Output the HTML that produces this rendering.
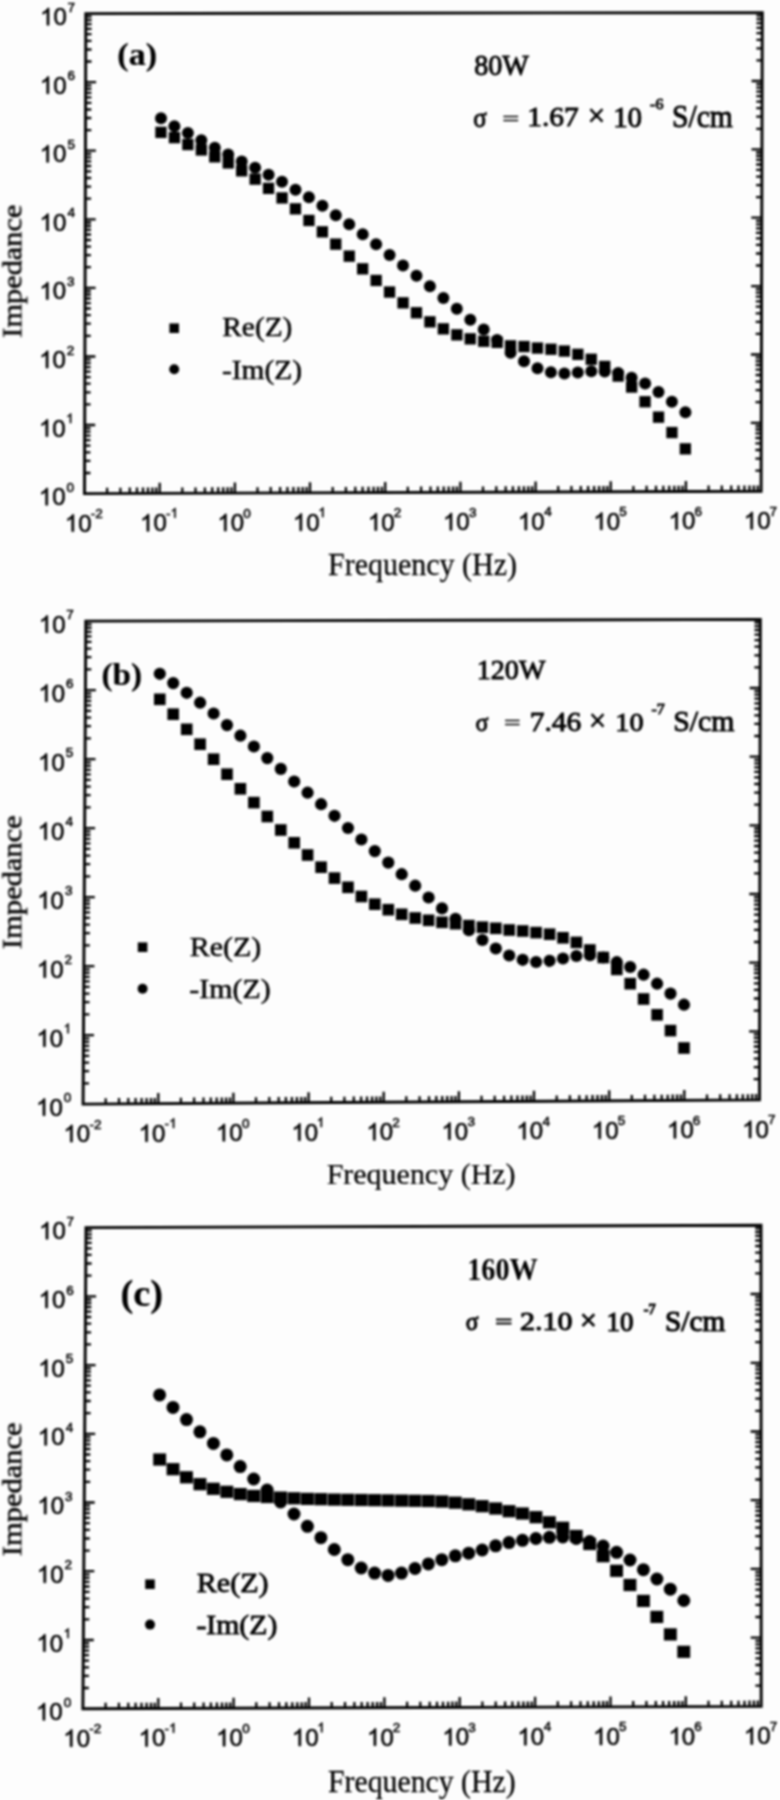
<!DOCTYPE html>
<html><head><meta charset="utf-8"><title>Impedance spectra</title><style>
html,body{margin:0;padding:0;background:#fff;}
svg{display:block;}
</style></head><body>
<svg width="780" height="1800" viewBox="0 0 780 1800">
<defs><filter id="blr" filterUnits="userSpaceOnUse" x="0" y="0" width="780" height="1800"><feGaussianBlur stdDeviation="0.8"/></filter></defs>
<rect width="780" height="1800" fill="#fdfdfd"/>
<g filter="url(#blr)">
<path d="M84.5,493.6 L85.8,13.6 L762.3,12.6 L761.1,491.2 Z" fill="none" stroke="#000000" stroke-width="2.9" stroke-linejoin="miter"/>
<path d="M107.1,493.5 v-5.8 M120.4,493.5 v-5.8 M129.8,493.4 v-5.8 M137.0,493.4 v-5.8 M143.0,493.4 v-5.8 M148.0,493.4 v-5.8 M152.4,493.4 v-5.8 M156.2,493.3 v-5.8 M159.7,493.3 v-10.5 M182.3,493.3 v-5.8 M195.5,493.2 v-5.8 M204.9,493.2 v-5.8 M212.2,493.1 v-5.8 M218.2,493.1 v-5.8 M223.2,493.1 v-5.8 M227.6,493.1 v-5.8 M231.4,493.1 v-5.8 M234.9,493.1 v-10.5 M257.5,493.0 v-5.8 M270.7,492.9 v-5.8 M280.1,492.9 v-5.8 M287.4,492.9 v-5.8 M293.4,492.9 v-5.8 M298.4,492.8 v-5.8 M302.7,492.8 v-5.8 M306.6,492.8 v-5.8 M310.0,492.8 v-10.5 M332.7,492.7 v-5.8 M345.9,492.7 v-5.8 M355.3,492.6 v-5.8 M362.6,492.6 v-5.8 M368.5,492.6 v-5.8 M373.6,492.6 v-5.8 M377.9,492.6 v-5.8 M381.8,492.5 v-5.8 M385.2,492.5 v-10.5 M407.8,492.5 v-5.8 M421.1,492.4 v-5.8 M430.5,492.4 v-5.8 M437.8,492.3 v-5.8 M443.7,492.3 v-5.8 M448.7,492.3 v-5.8 M453.1,492.3 v-5.8 M456.9,492.3 v-5.8 M460.4,492.3 v-10.5 M483.0,492.2 v-5.8 M496.3,492.1 v-5.8 M505.7,492.1 v-5.8 M512.9,492.1 v-5.8 M518.9,492.1 v-5.8 M523.9,492.0 v-5.8 M528.3,492.0 v-5.8 M532.1,492.0 v-5.8 M535.6,492.0 v-10.5 M558.2,491.9 v-5.8 M571.4,491.9 v-5.8 M580.8,491.8 v-5.8 M588.1,491.8 v-5.8 M594.1,491.8 v-5.8 M599.1,491.8 v-5.8 M603.5,491.8 v-5.8 M607.3,491.7 v-5.8 M610.7,491.7 v-10.5 M633.4,491.7 v-5.8 M646.6,491.6 v-5.8 M656.0,491.6 v-5.8 M663.3,491.5 v-5.8 M669.2,491.5 v-5.8 M674.3,491.5 v-5.8 M678.6,491.5 v-5.8 M682.5,491.5 v-5.8 M685.9,491.5 v-10.5 M708.6,491.4 v-5.8 M721.8,491.3 v-5.8 M731.2,491.3 v-5.8 M738.5,491.3 v-5.8 M744.4,491.3 v-5.8 M749.5,491.2 v-5.8 M753.8,491.2 v-5.8 M757.7,491.2 v-5.8 M84.6,473.0 h5.8 M761.2,470.6 h-5.8 M84.6,460.9 h5.8 M761.2,458.6 h-5.8 M84.6,452.3 h5.8 M761.2,450.0 h-5.8 M84.6,445.7 h5.8 M761.2,443.4 h-5.8 M84.6,440.2 h5.8 M761.2,438.0 h-5.8 M84.7,435.7 h5.8 M761.2,433.4 h-5.8 M84.7,431.7 h5.8 M761.3,429.5 h-5.8 M84.7,428.2 h5.8 M761.3,426.0 h-5.8 M84.7,425.0 h10.5 M761.3,422.8 h-10.5 M84.7,404.4 h5.8 M761.3,402.2 h-5.8 M84.8,392.3 h5.8 M761.4,390.2 h-5.8 M84.8,383.7 h5.8 M761.4,381.7 h-5.8 M84.8,377.1 h5.8 M761.4,375.0 h-5.8 M84.8,371.7 h5.8 M761.4,369.6 h-5.8 M84.8,367.1 h5.8 M761.4,365.0 h-5.8 M84.9,363.1 h5.8 M761.4,361.1 h-5.8 M84.9,359.6 h5.8 M761.4,357.6 h-5.8 M84.9,356.5 h10.5 M761.4,354.5 h-10.5 M84.9,335.8 h5.8 M761.5,333.9 h-5.8 M85.0,323.7 h5.8 M761.5,321.8 h-5.8 M85.0,315.2 h5.8 M761.5,313.3 h-5.8 M85.0,308.5 h5.8 M761.6,306.7 h-5.8 M85.0,303.1 h5.8 M761.6,301.3 h-5.8 M85.0,298.5 h5.8 M761.6,296.7 h-5.8 M85.0,294.5 h5.8 M761.6,292.7 h-5.8 M85.0,291.0 h5.8 M761.6,289.2 h-5.8 M85.1,287.9 h10.5 M761.6,286.1 h-10.5 M85.1,267.2 h5.8 M761.7,265.5 h-5.8 M85.1,255.2 h5.8 M761.7,253.5 h-5.8 M85.2,246.6 h5.8 M761.7,244.9 h-5.8 M85.2,240.0 h5.8 M761.7,238.3 h-5.8 M85.2,234.5 h5.8 M761.7,232.9 h-5.8 M85.2,229.9 h5.8 M761.8,228.3 h-5.8 M85.2,226.0 h5.8 M761.8,224.3 h-5.8 M85.2,222.5 h5.8 M761.8,220.8 h-5.8 M85.2,219.3 h10.5 M761.8,217.7 h-10.5 M85.3,198.7 h5.8 M761.8,197.1 h-5.8 M85.3,186.6 h5.8 M761.9,185.1 h-5.8 M85.4,178.0 h5.8 M761.9,176.6 h-5.8 M85.4,171.4 h5.8 M761.9,169.9 h-5.8 M85.4,166.0 h5.8 M761.9,164.5 h-5.8 M85.4,161.4 h5.8 M761.9,159.9 h-5.8 M85.4,157.4 h5.8 M761.9,156.0 h-5.8 M85.4,153.9 h5.8 M761.9,152.5 h-5.8 M85.4,150.7 h10.5 M762.0,149.3 h-10.5 M85.5,130.1 h5.8 M762.0,128.8 h-5.8 M85.5,118.0 h5.8 M762.0,116.7 h-5.8 M85.5,109.5 h5.8 M762.1,108.2 h-5.8 M85.6,102.8 h5.8 M762.1,101.6 h-5.8 M85.6,97.4 h5.8 M762.1,96.1 h-5.8 M85.6,92.8 h5.8 M762.1,91.6 h-5.8 M85.6,88.8 h5.8 M762.1,87.6 h-5.8 M85.6,85.3 h5.8 M762.1,84.1 h-5.8 M85.6,82.2 h10.5 M762.1,81.0 h-10.5 M85.7,61.5 h5.8 M762.2,60.4 h-5.8 M85.7,49.5 h5.8 M762.2,48.3 h-5.8 M85.7,40.9 h5.8 M762.2,39.8 h-5.8 M85.7,34.2 h5.8 M762.2,33.2 h-5.8 M85.8,28.8 h5.8 M762.3,27.8 h-5.8 M85.8,24.2 h5.8 M762.3,23.2 h-5.8 M85.8,20.2 h5.8 M762.3,19.2 h-5.8 M85.8,16.7 h5.8 M762.3,15.7 h-5.8" stroke="#000000" stroke-width="2.3" fill="none"/>
<polygon points="47.77,505.18 45.66,505.18 45.66,491.79 44.77,492.56 43.38,493.40 41.44,494.33 41.44,492.29 43.26,491.31 44.70,490.13 45.78,488.96 46.40,488.00 47.77,488.00" fill="#000000" stroke="#000000" stroke-width="0.55" stroke-linejoin="round"/>
<text x="52.16" y="505.18" font-family="Liberation Sans" font-size="24.0" fill="#000000" stroke="#000000" stroke-width="0.55">0</text>
<text x="66.46" y="491.83" font-family="Liberation Sans" font-size="13.5" fill="#000000" stroke="#000000" stroke-width="0.55">0</text>
<polygon points="47.96,436.61 45.85,436.61 45.85,423.22 44.96,423.98 43.57,424.82 41.62,425.76 41.62,423.72 43.45,422.74 44.89,421.56 45.97,420.38 46.59,419.42 47.96,419.42" fill="#000000" stroke="#000000" stroke-width="0.55" stroke-linejoin="round"/>
<text x="52.35" y="436.61" font-family="Liberation Sans" font-size="24.0" fill="#000000" stroke="#000000" stroke-width="0.55">0</text>
<polygon points="71.14,423.12 69.95,423.12 69.95,415.59 69.45,416.02 68.67,416.50 67.58,417.02 67.58,415.87 68.60,415.32 69.41,414.66 70.02,414.00 70.37,413.46 71.14,413.46" fill="#000000" stroke="#000000" stroke-width="0.55" stroke-linejoin="round"/>
<polygon points="48.14,368.04 46.03,368.04 46.03,354.65 45.14,355.41 43.75,356.25 41.81,357.19 41.81,355.15 43.63,354.17 45.07,352.99 46.15,351.81 46.78,350.85 48.14,350.85" fill="#000000" stroke="#000000" stroke-width="0.55" stroke-linejoin="round"/>
<text x="52.54" y="368.04" font-family="Liberation Sans" font-size="24.0" fill="#000000" stroke="#000000" stroke-width="0.55">0</text>
<text x="66.70" y="354.69" font-family="Liberation Sans" font-size="13.5" fill="#000000" stroke="#000000" stroke-width="0.55">2</text>
<polygon points="48.33,299.47 46.22,299.47 46.22,286.07 45.33,286.84 43.94,287.68 41.99,288.62 41.99,286.58 43.82,285.59 45.26,284.42 46.34,283.24 46.96,282.28 48.33,282.28" fill="#000000" stroke="#000000" stroke-width="0.55" stroke-linejoin="round"/>
<text x="52.72" y="299.47" font-family="Liberation Sans" font-size="24.0" fill="#000000" stroke="#000000" stroke-width="0.55">0</text>
<text x="67.02" y="286.12" font-family="Liberation Sans" font-size="13.5" fill="#000000" stroke="#000000" stroke-width="0.55">3</text>
<polygon points="48.51,230.89 46.40,230.89 46.40,217.50 45.51,218.27 44.12,219.11 42.18,220.05 42.18,218.01 44.00,217.02 45.44,215.85 46.52,214.67 47.15,213.71 48.51,213.71" fill="#000000" stroke="#000000" stroke-width="0.55" stroke-linejoin="round"/>
<text x="52.91" y="230.89" font-family="Liberation Sans" font-size="24.0" fill="#000000" stroke="#000000" stroke-width="0.55">0</text>
<text x="67.47" y="217.41" font-family="Liberation Sans" font-size="13.5" fill="#000000" stroke="#000000" stroke-width="0.55">4</text>
<polygon points="48.70,162.32 46.59,162.32 46.59,148.93 45.70,149.70 44.31,150.54 42.36,151.47 42.36,149.43 44.19,148.45 45.63,147.27 46.71,146.10 47.33,145.14 48.70,145.14" fill="#000000" stroke="#000000" stroke-width="0.55" stroke-linejoin="round"/>
<text x="53.09" y="162.32" font-family="Liberation Sans" font-size="24.0" fill="#000000" stroke="#000000" stroke-width="0.55">0</text>
<text x="67.39" y="148.84" font-family="Liberation Sans" font-size="13.5" fill="#000000" stroke="#000000" stroke-width="0.55">5</text>
<polygon points="48.89,93.75 46.77,93.75 46.77,80.36 45.89,81.13 44.49,81.97 42.55,82.90 42.55,80.86 44.37,79.88 45.81,78.70 46.89,77.53 47.52,76.57 48.89,76.57" fill="#000000" stroke="#000000" stroke-width="0.55" stroke-linejoin="round"/>
<text x="53.28" y="93.75" font-family="Liberation Sans" font-size="24.0" fill="#000000" stroke="#000000" stroke-width="0.55">0</text>
<text x="67.44" y="80.40" font-family="Liberation Sans" font-size="13.5" fill="#000000" stroke="#000000" stroke-width="0.55">6</text>
<polygon points="49.07,25.18 46.96,25.18 46.96,11.79 46.07,12.56 44.68,13.40 42.74,14.33 42.74,12.29 44.56,11.31 46.00,10.13 47.08,8.96 47.70,8.00 49.07,8.00" fill="#000000" stroke="#000000" stroke-width="0.55" stroke-linejoin="round"/>
<text x="53.46" y="25.18" font-family="Liberation Sans" font-size="24.0" fill="#000000" stroke="#000000" stroke-width="0.55">0</text>
<text x="67.62" y="11.70" font-family="Liberation Sans" font-size="13.5" fill="#000000" stroke="#000000" stroke-width="0.55">7</text>
<polygon points="73.85,531.60 71.74,531.60 71.74,518.21 70.85,518.98 69.46,519.82 67.52,520.75 67.52,518.71 69.34,517.73 70.78,516.55 71.86,515.38 72.48,514.42 73.85,514.42" fill="#000000" stroke="#000000" stroke-width="0.55" stroke-linejoin="round"/>
<text x="78.24" y="531.60" font-family="Liberation Sans" font-size="24.0" fill="#000000" stroke="#000000" stroke-width="0.55">0</text>
<text x="90.84" y="518.05" font-family="Liberation Sans" font-size="13.5" fill="#000000" stroke="#000000" stroke-width="0.55">-2</text>
<polygon points="149.03,531.33 146.92,531.33 146.92,517.94 146.03,518.71 144.64,519.55 142.69,520.49 142.69,518.45 144.52,517.46 145.96,516.29 147.04,515.11 147.66,514.15 149.03,514.15" fill="#000000" stroke="#000000" stroke-width="0.55" stroke-linejoin="round"/>
<text x="153.42" y="531.33" font-family="Liberation Sans" font-size="24.0" fill="#000000" stroke="#000000" stroke-width="0.55">0</text>
<text x="166.02" y="517.65" font-family="Liberation Sans" font-size="13.5" fill="#000000" stroke="#000000" stroke-width="0.55">-</text>
<polygon points="175.55,517.65 174.36,517.65 174.36,510.12 173.86,510.55 173.08,511.02 171.98,511.55 171.98,510.40 173.01,509.85 173.82,509.18 174.43,508.52 174.78,507.98 175.55,507.98" fill="#000000" stroke="#000000" stroke-width="0.55" stroke-linejoin="round"/>
<polygon points="226.37,531.07 224.26,531.07 224.26,517.67 223.37,518.44 221.98,519.28 220.03,520.22 220.03,518.18 221.86,517.19 223.30,516.02 224.38,514.84 225.00,513.88 226.37,513.88" fill="#000000" stroke="#000000" stroke-width="0.55" stroke-linejoin="round"/>
<text x="230.76" y="531.07" font-family="Liberation Sans" font-size="24.0" fill="#000000" stroke="#000000" stroke-width="0.55">0</text>
<text x="243.36" y="517.52" font-family="Liberation Sans" font-size="13.5" fill="#000000" stroke="#000000" stroke-width="0.55">0</text>
<polygon points="301.88,530.80 299.77,530.80 299.77,517.41 298.88,518.18 297.49,519.02 295.55,519.95 295.55,517.91 297.37,516.93 298.81,515.75 299.89,514.58 300.51,513.62 301.88,513.62" fill="#000000" stroke="#000000" stroke-width="0.55" stroke-linejoin="round"/>
<text x="306.27" y="530.80" font-family="Liberation Sans" font-size="24.0" fill="#000000" stroke="#000000" stroke-width="0.55">0</text>
<polygon points="323.37,517.12 322.18,517.12 322.18,509.58 321.68,510.01 320.90,510.49 319.80,511.01 319.80,509.87 320.83,509.31 321.64,508.65 322.25,507.99 322.60,507.45 323.37,507.45" fill="#000000" stroke="#000000" stroke-width="0.55" stroke-linejoin="round"/>
<polygon points="376.86,530.53 374.75,530.53 374.75,517.14 373.86,517.91 372.47,518.75 370.52,519.69 370.52,517.65 372.35,516.66 373.79,515.49 374.87,514.31 375.49,513.35 376.86,513.35" fill="#000000" stroke="#000000" stroke-width="0.55" stroke-linejoin="round"/>
<text x="381.25" y="530.53" font-family="Liberation Sans" font-size="24.0" fill="#000000" stroke="#000000" stroke-width="0.55">0</text>
<text x="393.71" y="516.98" font-family="Liberation Sans" font-size="13.5" fill="#000000" stroke="#000000" stroke-width="0.55">2</text>
<polygon points="451.97,530.27 449.86,530.27 449.86,516.87 448.97,517.64 447.58,518.48 445.63,519.42 445.63,517.38 447.46,516.39 448.90,515.22 449.98,514.04 450.60,513.08 451.97,513.08" fill="#000000" stroke="#000000" stroke-width="0.55" stroke-linejoin="round"/>
<text x="456.36" y="530.27" font-family="Liberation Sans" font-size="24.0" fill="#000000" stroke="#000000" stroke-width="0.55">0</text>
<text x="468.96" y="516.72" font-family="Liberation Sans" font-size="13.5" fill="#000000" stroke="#000000" stroke-width="0.55">3</text>
<polygon points="526.88,530.00 524.76,530.00 524.76,516.61 523.88,517.38 522.48,518.22 520.54,519.15 520.54,517.11 522.36,516.13 523.80,514.95 524.88,513.78 525.51,512.82 526.88,512.82" fill="#000000" stroke="#000000" stroke-width="0.55" stroke-linejoin="round"/>
<text x="531.27" y="530.00" font-family="Liberation Sans" font-size="24.0" fill="#000000" stroke="#000000" stroke-width="0.55">0</text>
<text x="544.13" y="516.32" font-family="Liberation Sans" font-size="13.5" fill="#000000" stroke="#000000" stroke-width="0.55">4</text>
<polygon points="602.32,529.73 600.21,529.73 600.21,516.34 599.32,517.11 597.93,517.95 595.99,518.89 595.99,516.85 597.81,515.86 599.25,514.69 600.33,513.51 600.96,512.55 602.32,512.55" fill="#000000" stroke="#000000" stroke-width="0.55" stroke-linejoin="round"/>
<text x="606.72" y="529.73" font-family="Liberation Sans" font-size="24.0" fill="#000000" stroke="#000000" stroke-width="0.55">0</text>
<text x="619.31" y="516.05" font-family="Liberation Sans" font-size="13.5" fill="#000000" stroke="#000000" stroke-width="0.55">5</text>
<polygon points="677.57,529.47 675.46,529.47 675.46,516.07 674.57,516.84 673.18,517.68 671.23,518.62 671.23,516.58 673.06,515.59 674.50,514.42 675.58,513.24 676.20,512.28 677.57,512.28" fill="#000000" stroke="#000000" stroke-width="0.55" stroke-linejoin="round"/>
<text x="681.96" y="529.47" font-family="Liberation Sans" font-size="24.0" fill="#000000" stroke="#000000" stroke-width="0.55">0</text>
<text x="694.42" y="515.92" font-family="Liberation Sans" font-size="13.5" fill="#000000" stroke="#000000" stroke-width="0.55">6</text>
<polygon points="752.75,529.20 750.64,529.20 750.64,515.81 749.75,516.58 748.36,517.42 746.41,518.35 746.41,516.31 748.24,515.33 749.68,514.15 750.76,512.98 751.38,512.02 752.75,512.02" fill="#000000" stroke="#000000" stroke-width="0.55" stroke-linejoin="round"/>
<text x="757.14" y="529.20" font-family="Liberation Sans" font-size="24.0" fill="#000000" stroke="#000000" stroke-width="0.55">0</text>
<text x="769.60" y="515.51" font-family="Liberation Sans" font-size="13.5" fill="#000000" stroke="#000000" stroke-width="0.55">7</text>
<rect x="155.3" y="126.7" width="11.3" height="11.3" fill="#000000"/>
<circle cx="161.0" cy="118.2" r="6.0" fill="#000000"/>
<rect x="168.8" y="132.0" width="11.3" height="11.3" fill="#000000"/>
<circle cx="174.4" cy="126.2" r="6.0" fill="#000000"/>
<rect x="182.2" y="138.9" width="11.3" height="11.3" fill="#000000"/>
<circle cx="187.9" cy="133.0" r="6.0" fill="#000000"/>
<rect x="195.7" y="144.3" width="11.3" height="11.3" fill="#000000"/>
<circle cx="201.3" cy="140.3" r="6.0" fill="#000000"/>
<rect x="209.1" y="151.2" width="11.3" height="11.3" fill="#000000"/>
<circle cx="214.8" cy="147.7" r="6.0" fill="#000000"/>
<rect x="222.6" y="157.3" width="11.3" height="11.3" fill="#000000"/>
<circle cx="228.2" cy="154.6" r="6.0" fill="#000000"/>
<rect x="236.0" y="165.2" width="11.3" height="11.3" fill="#000000"/>
<circle cx="241.7" cy="161.5" r="6.0" fill="#000000"/>
<rect x="249.5" y="173.5" width="11.3" height="11.3" fill="#000000"/>
<circle cx="255.1" cy="167.7" r="6.0" fill="#000000"/>
<rect x="262.9" y="182.7" width="11.3" height="11.3" fill="#000000"/>
<circle cx="268.6" cy="174.8" r="6.0" fill="#000000"/>
<rect x="276.4" y="192.3" width="11.3" height="11.3" fill="#000000"/>
<circle cx="282.0" cy="181.8" r="6.0" fill="#000000"/>
<rect x="289.8" y="203.2" width="11.3" height="11.3" fill="#000000"/>
<circle cx="295.5" cy="189.7" r="6.0" fill="#000000"/>
<rect x="303.3" y="214.8" width="11.3" height="11.3" fill="#000000"/>
<circle cx="308.9" cy="197.3" r="6.0" fill="#000000"/>
<rect x="316.7" y="226.2" width="11.3" height="11.3" fill="#000000"/>
<circle cx="322.4" cy="205.8" r="6.0" fill="#000000"/>
<rect x="330.1" y="238.5" width="11.3" height="11.3" fill="#000000"/>
<circle cx="335.8" cy="215.3" r="6.0" fill="#000000"/>
<rect x="343.6" y="250.5" width="11.3" height="11.3" fill="#000000"/>
<circle cx="349.2" cy="224.3" r="6.0" fill="#000000"/>
<rect x="357.0" y="263.2" width="11.3" height="11.3" fill="#000000"/>
<circle cx="362.7" cy="234.2" r="6.0" fill="#000000"/>
<rect x="370.5" y="274.8" width="11.3" height="11.3" fill="#000000"/>
<circle cx="376.1" cy="244.2" r="6.0" fill="#000000"/>
<rect x="383.9" y="286.4" width="11.3" height="11.3" fill="#000000"/>
<circle cx="389.6" cy="255.0" r="6.0" fill="#000000"/>
<rect x="397.4" y="297.2" width="11.3" height="11.3" fill="#000000"/>
<circle cx="403.0" cy="265.4" r="6.0" fill="#000000"/>
<rect x="410.8" y="307.1" width="11.3" height="11.3" fill="#000000"/>
<circle cx="416.5" cy="275.8" r="6.0" fill="#000000"/>
<rect x="424.3" y="316.2" width="11.3" height="11.3" fill="#000000"/>
<circle cx="429.9" cy="286.3" r="6.0" fill="#000000"/>
<rect x="437.7" y="323.2" width="11.3" height="11.3" fill="#000000"/>
<circle cx="443.4" cy="298.0" r="6.0" fill="#000000"/>
<rect x="451.2" y="329.2" width="11.3" height="11.3" fill="#000000"/>
<circle cx="456.8" cy="308.8" r="6.0" fill="#000000"/>
<rect x="464.6" y="333.2" width="11.3" height="11.3" fill="#000000"/>
<circle cx="470.3" cy="319.7" r="6.0" fill="#000000"/>
<rect x="478.1" y="335.6" width="11.3" height="11.3" fill="#000000"/>
<circle cx="483.7" cy="329.6" r="6.0" fill="#000000"/>
<rect x="491.5" y="336.7" width="11.3" height="11.3" fill="#000000"/>
<circle cx="497.1" cy="340.0" r="6.0" fill="#000000"/>
<rect x="504.9" y="340.2" width="11.3" height="11.3" fill="#000000"/>
<circle cx="510.6" cy="352.7" r="6.0" fill="#000000"/>
<rect x="518.4" y="340.9" width="11.3" height="11.3" fill="#000000"/>
<circle cx="524.0" cy="361.2" r="6.0" fill="#000000"/>
<rect x="531.8" y="342.4" width="11.3" height="11.3" fill="#000000"/>
<circle cx="537.5" cy="368.2" r="6.0" fill="#000000"/>
<rect x="545.3" y="343.6" width="11.3" height="11.3" fill="#000000"/>
<circle cx="550.9" cy="372.3" r="6.0" fill="#000000"/>
<rect x="558.7" y="345.4" width="11.3" height="11.3" fill="#000000"/>
<circle cx="564.4" cy="373.5" r="6.0" fill="#000000"/>
<rect x="572.2" y="348.7" width="11.3" height="11.3" fill="#000000"/>
<circle cx="577.8" cy="372.6" r="6.0" fill="#000000"/>
<rect x="585.6" y="353.6" width="11.3" height="11.3" fill="#000000"/>
<circle cx="591.3" cy="371.2" r="6.0" fill="#000000"/>
<rect x="599.1" y="360.8" width="11.3" height="11.3" fill="#000000"/>
<circle cx="604.7" cy="371.5" r="6.0" fill="#000000"/>
<rect x="612.5" y="370.4" width="11.3" height="11.3" fill="#000000"/>
<circle cx="618.2" cy="373.0" r="6.0" fill="#000000"/>
<rect x="626.0" y="381.4" width="11.3" height="11.3" fill="#000000"/>
<circle cx="631.6" cy="377.7" r="6.0" fill="#000000"/>
<rect x="639.4" y="396.1" width="11.3" height="11.3" fill="#000000"/>
<circle cx="645.1" cy="383.6" r="6.0" fill="#000000"/>
<rect x="652.9" y="411.5" width="11.3" height="11.3" fill="#000000"/>
<circle cx="658.5" cy="392.1" r="6.0" fill="#000000"/>
<rect x="666.3" y="426.9" width="11.3" height="11.3" fill="#000000"/>
<circle cx="671.9" cy="401.7" r="6.0" fill="#000000"/>
<rect x="679.7" y="443.2" width="11.3" height="11.3" fill="#000000"/>
<circle cx="685.4" cy="412.3" r="6.0" fill="#000000"/>
<rect x="169.40" y="323.40" width="9.6" height="9.6" fill="#000000"/>
<circle cx="174.2" cy="369.2" r="5.0" fill="#000000"/>
<text transform="translate(117.33,64.53) scale(0.3417,0.3178)" font-family="Liberation Serif" font-weight="bold" font-size="100" fill="#000000" stroke="#000000" stroke-width="0.61">(a)</text>
<text transform="translate(474.22,74.97) scale(0.2816,0.2896)" font-family="Liberation Serif" font-weight="normal" font-size="100" fill="#000000" stroke="#000000" stroke-width="3.15">80W</text>
<text transform="translate(222.27,336.20) scale(0.2939,0.2644)" font-family="Liberation Serif" font-weight="normal" font-size="100" fill="#000000" stroke="#000000" stroke-width="1.79">Re(Z)</text>
<text transform="translate(221.97,378.98) scale(0.2939,0.2700)" font-family="Liberation Serif" font-weight="normal" font-size="100" fill="#000000" stroke="#000000" stroke-width="1.77">-Im(Z)</text>
<text transform="translate(328.03,575.33) scale(0.2999,0.3117)" font-family="Liberation Serif" font-weight="normal" font-size="100" fill="#000000" stroke="#000000" stroke-width="0.82">Frequency (Hz)</text>
<text transform="translate(473.25,126.78) scale(0.2500,0.2673)" font-family="Liberation Serif" font-weight="normal" font-size="100" fill="#000000" stroke="#000000" stroke-width="3.48">σ</text>
<text transform="translate(502.38,124.87) scale(0.2936,0.1960)" font-family="Liberation Serif" font-weight="normal" font-size="100" fill="#000000" stroke="#000000" stroke-width="3.75">=</text>
<text transform="translate(527.20,126.49) scale(0.2945,0.2824)" font-family="Liberation Serif" font-weight="normal" font-size="100" fill="#000000" stroke="#000000" stroke-width="3.12">1.67</text>
<text transform="translate(587.69,126.45) scale(0.3075,0.3075)" font-family="Liberation Serif" font-weight="normal" font-size="100" fill="#000000" stroke="#000000" stroke-width="2.93">×</text>
<text transform="translate(613.14,126.98) scale(0.2897,0.2868)" font-family="Liberation Serif" font-weight="normal" font-size="100" fill="#000000" stroke="#000000" stroke-width="3.12">10</text>
<text transform="translate(671.98,127.43) scale(0.2959,0.3090)" font-family="Liberation Serif" font-weight="normal" font-size="100" fill="#000000" stroke="#000000" stroke-width="2.98">S/cm</text>
<text transform="translate(650.11,109.48) scale(0.1592,0.1358)" font-family="Liberation Serif" font-weight="normal" font-size="100" fill="#000000" stroke="#000000" stroke-width="6.12">-6</text>
<text transform="translate(21.80,337.71) rotate(-90) scale(0.3035,0.2800)" font-family="Liberation Serif" font-size="100" fill="#000000" stroke="#000000" stroke-width="1.79">Impedance</text>
<path d="M83.1,1104.1 L85.8,621.1 L760.3,619.4 L759.5,1099.9 Z" fill="none" stroke="#000000" stroke-width="2.9" stroke-linejoin="miter"/>
<path d="M105.7,1104.0 v-5.8 M119.0,1103.9 v-5.8 M128.3,1103.8 v-5.8 M135.6,1103.8 v-5.8 M141.6,1103.7 v-5.8 M146.6,1103.7 v-5.8 M151.0,1103.7 v-5.8 M154.8,1103.7 v-5.8 M158.3,1103.6 v-10.5 M180.9,1103.5 v-5.8 M194.1,1103.4 v-5.8 M203.5,1103.4 v-5.8 M210.8,1103.3 v-5.8 M216.7,1103.3 v-5.8 M221.8,1103.2 v-5.8 M226.1,1103.2 v-5.8 M230.0,1103.2 v-5.8 M233.4,1103.2 v-10.5 M256.0,1103.0 v-5.8 M269.3,1102.9 v-5.8 M278.7,1102.9 v-5.8 M285.9,1102.8 v-5.8 M291.9,1102.8 v-5.8 M296.9,1102.8 v-5.8 M301.3,1102.7 v-5.8 M305.1,1102.7 v-5.8 M308.6,1102.7 v-10.5 M331.2,1102.6 v-5.8 M344.4,1102.5 v-5.8 M353.8,1102.4 v-5.8 M361.1,1102.4 v-5.8 M367.0,1102.3 v-5.8 M372.1,1102.3 v-5.8 M376.4,1102.3 v-5.8 M380.3,1102.3 v-5.8 M383.7,1102.2 v-10.5 M406.3,1102.1 v-5.8 M419.6,1102.0 v-5.8 M429.0,1102.0 v-5.8 M436.3,1101.9 v-5.8 M442.2,1101.9 v-5.8 M447.2,1101.8 v-5.8 M451.6,1101.8 v-5.8 M455.4,1101.8 v-5.8 M458.9,1101.8 v-10.5 M481.5,1101.6 v-5.8 M494.7,1101.5 v-5.8 M504.1,1101.5 v-5.8 M511.4,1101.4 v-5.8 M517.4,1101.4 v-5.8 M522.4,1101.4 v-5.8 M526.8,1101.3 v-5.8 M530.6,1101.3 v-5.8 M534.0,1101.3 v-10.5 M556.7,1101.2 v-5.8 M569.9,1101.1 v-5.8 M579.3,1101.0 v-5.8 M586.6,1101.0 v-5.8 M592.5,1100.9 v-5.8 M597.5,1100.9 v-5.8 M601.9,1100.9 v-5.8 M605.7,1100.9 v-5.8 M609.2,1100.8 v-10.5 M631.8,1100.7 v-5.8 M645.0,1100.6 v-5.8 M654.4,1100.6 v-5.8 M661.7,1100.5 v-5.8 M667.7,1100.5 v-5.8 M672.7,1100.4 v-5.8 M677.1,1100.4 v-5.8 M680.9,1100.4 v-5.8 M684.3,1100.4 v-10.5 M707.0,1100.2 v-5.8 M720.2,1100.1 v-5.8 M729.6,1100.1 v-5.8 M736.9,1100.0 v-5.8 M742.8,1100.0 v-5.8 M747.9,1100.0 v-5.8 M752.2,1099.9 v-5.8 M756.1,1099.9 v-5.8 M83.2,1083.3 h5.8 M759.5,1079.2 h-5.8 M83.3,1071.2 h5.8 M759.6,1067.1 h-5.8 M83.3,1062.6 h5.8 M759.6,1058.6 h-5.8 M83.4,1055.9 h5.8 M759.6,1051.9 h-5.8 M83.4,1050.4 h5.8 M759.6,1046.5 h-5.8 M83.4,1045.8 h5.8 M759.6,1041.9 h-5.8 M83.4,1041.8 h5.8 M759.6,1037.9 h-5.8 M83.5,1038.3 h5.8 M759.6,1034.4 h-5.8 M83.5,1035.1 h10.5 M759.6,1031.3 h-10.5 M83.6,1014.3 h5.8 M759.6,1010.6 h-5.8 M83.7,1002.2 h5.8 M759.7,998.5 h-5.8 M83.7,993.6 h5.8 M759.7,989.9 h-5.8 M83.8,986.9 h5.8 M759.7,983.3 h-5.8 M83.8,981.4 h5.8 M759.7,977.8 h-5.8 M83.8,976.8 h5.8 M759.7,973.2 h-5.8 M83.8,972.8 h5.8 M759.7,969.3 h-5.8 M83.9,969.3 h5.8 M759.7,965.8 h-5.8 M83.9,966.1 h10.5 M759.7,962.6 h-10.5 M84.0,945.3 h5.8 M759.8,942.0 h-5.8 M84.1,933.2 h5.8 M759.8,929.9 h-5.8 M84.1,924.6 h5.8 M759.8,921.3 h-5.8 M84.1,917.9 h5.8 M759.8,914.6 h-5.8 M84.2,912.4 h5.8 M759.8,909.2 h-5.8 M84.2,907.8 h5.8 M759.8,904.6 h-5.8 M84.2,903.8 h5.8 M759.8,900.6 h-5.8 M84.2,900.3 h5.8 M759.8,897.1 h-5.8 M84.3,897.1 h10.5 M759.8,894.0 h-10.5 M84.4,876.3 h5.8 M759.9,873.3 h-5.8 M84.4,864.2 h5.8 M759.9,861.2 h-5.8 M84.5,855.6 h5.8 M759.9,852.6 h-5.8 M84.5,848.9 h5.8 M759.9,846.0 h-5.8 M84.6,843.4 h5.8 M759.9,840.6 h-5.8 M84.6,838.8 h5.8 M759.9,836.0 h-5.8 M84.6,834.8 h5.8 M759.9,832.0 h-5.8 M84.6,831.3 h5.8 M760.0,828.5 h-5.8 M84.6,828.1 h10.5 M760.0,825.3 h-10.5 M84.8,807.3 h5.8 M760.0,804.7 h-5.8 M84.8,795.2 h5.8 M760.0,792.6 h-5.8 M84.9,786.6 h5.8 M760.0,784.0 h-5.8 M84.9,779.9 h5.8 M760.0,777.3 h-5.8 M84.9,774.4 h5.8 M760.0,771.9 h-5.8 M85.0,769.8 h5.8 M760.1,767.3 h-5.8 M85.0,765.8 h5.8 M760.1,763.3 h-5.8 M85.0,762.3 h5.8 M760.1,759.8 h-5.8 M85.0,759.1 h10.5 M760.1,756.7 h-10.5 M85.1,738.3 h5.8 M760.1,736.0 h-5.8 M85.2,726.2 h5.8 M760.1,723.9 h-5.8 M85.3,717.6 h5.8 M760.1,715.4 h-5.8 M85.3,710.9 h5.8 M760.2,708.7 h-5.8 M85.3,705.4 h5.8 M760.2,703.3 h-5.8 M85.4,700.8 h5.8 M760.2,698.7 h-5.8 M85.4,696.8 h5.8 M760.2,694.7 h-5.8 M85.4,693.3 h5.8 M760.2,691.2 h-5.8 M85.4,690.1 h10.5 M760.2,688.0 h-10.5 M85.5,669.3 h5.8 M760.2,667.4 h-5.8 M85.6,657.2 h5.8 M760.2,655.3 h-5.8 M85.6,648.6 h5.8 M760.3,646.7 h-5.8 M85.7,641.9 h5.8 M760.3,640.1 h-5.8 M85.7,636.4 h5.8 M760.3,634.6 h-5.8 M85.7,631.8 h5.8 M760.3,630.0 h-5.8 M85.8,627.8 h5.8 M760.3,626.1 h-5.8 M85.8,624.3 h5.8 M760.3,622.5 h-5.8" stroke="#000000" stroke-width="2.3" fill="none"/>
<polygon points="45.07,1115.68 42.96,1115.68 42.96,1102.29 42.07,1103.06 40.68,1103.90 38.74,1104.83 38.74,1102.79 40.56,1101.81 42.00,1100.63 43.08,1099.46 43.70,1098.50 45.07,1098.50" fill="#000000" stroke="#000000" stroke-width="0.55" stroke-linejoin="round"/>
<text x="49.46" y="1115.68" font-family="Liberation Sans" font-size="24.0" fill="#000000" stroke="#000000" stroke-width="0.55">0</text>
<text x="63.76" y="1102.33" font-family="Liberation Sans" font-size="13.5" fill="#000000" stroke="#000000" stroke-width="0.55">0</text>
<polygon points="45.46,1046.68 43.35,1046.68 43.35,1033.29 42.46,1034.06 41.07,1034.90 39.12,1035.83 39.12,1033.79 40.95,1032.81 42.39,1031.63 43.47,1030.46 44.09,1029.50 45.46,1029.50" fill="#000000" stroke="#000000" stroke-width="0.55" stroke-linejoin="round"/>
<text x="49.85" y="1046.68" font-family="Liberation Sans" font-size="24.0" fill="#000000" stroke="#000000" stroke-width="0.55">0</text>
<polygon points="68.64,1033.19 67.45,1033.19 67.45,1025.66 66.95,1026.09 66.17,1026.57 65.08,1027.09 65.08,1025.95 66.10,1025.39 66.91,1024.73 67.52,1024.07 67.87,1023.53 68.64,1023.53" fill="#000000" stroke="#000000" stroke-width="0.55" stroke-linejoin="round"/>
<polygon points="45.84,977.68 43.73,977.68 43.73,964.29 42.84,965.06 41.45,965.90 39.51,966.83 39.51,964.79 41.33,963.81 42.77,962.63 43.85,961.46 44.48,960.50 45.84,960.50" fill="#000000" stroke="#000000" stroke-width="0.55" stroke-linejoin="round"/>
<text x="50.24" y="977.68" font-family="Liberation Sans" font-size="24.0" fill="#000000" stroke="#000000" stroke-width="0.55">0</text>
<text x="64.40" y="964.33" font-family="Liberation Sans" font-size="13.5" fill="#000000" stroke="#000000" stroke-width="0.55">2</text>
<polygon points="46.23,908.68 44.12,908.68 44.12,895.29 43.23,896.06 41.84,896.90 39.89,897.83 39.89,895.79 41.72,894.81 43.16,893.63 44.24,892.46 44.86,891.50 46.23,891.50" fill="#000000" stroke="#000000" stroke-width="0.55" stroke-linejoin="round"/>
<text x="50.62" y="908.68" font-family="Liberation Sans" font-size="24.0" fill="#000000" stroke="#000000" stroke-width="0.55">0</text>
<text x="64.92" y="895.33" font-family="Liberation Sans" font-size="13.5" fill="#000000" stroke="#000000" stroke-width="0.55">3</text>
<polygon points="46.61,839.68 44.50,839.68 44.50,826.29 43.61,827.06 42.22,827.90 40.28,828.83 40.28,826.79 42.10,825.81 43.54,824.63 44.62,823.46 45.25,822.50 46.61,822.50" fill="#000000" stroke="#000000" stroke-width="0.55" stroke-linejoin="round"/>
<text x="51.01" y="839.68" font-family="Liberation Sans" font-size="24.0" fill="#000000" stroke="#000000" stroke-width="0.55">0</text>
<text x="65.57" y="826.19" font-family="Liberation Sans" font-size="13.5" fill="#000000" stroke="#000000" stroke-width="0.55">4</text>
<polygon points="47.00,770.68 44.89,770.68 44.89,757.29 44.00,758.06 42.61,758.90 40.66,759.83 40.66,757.79 42.49,756.81 43.93,755.63 45.01,754.46 45.63,753.50 47.00,753.50" fill="#000000" stroke="#000000" stroke-width="0.55" stroke-linejoin="round"/>
<text x="51.39" y="770.68" font-family="Liberation Sans" font-size="24.0" fill="#000000" stroke="#000000" stroke-width="0.55">0</text>
<text x="65.69" y="757.19" font-family="Liberation Sans" font-size="13.5" fill="#000000" stroke="#000000" stroke-width="0.55">5</text>
<polygon points="47.39,701.68 45.27,701.68 45.27,688.29 44.39,689.06 42.99,689.90 41.05,690.83 41.05,688.79 42.87,687.81 44.31,686.63 45.39,685.46 46.02,684.50 47.39,684.50" fill="#000000" stroke="#000000" stroke-width="0.55" stroke-linejoin="round"/>
<text x="51.78" y="701.68" font-family="Liberation Sans" font-size="24.0" fill="#000000" stroke="#000000" stroke-width="0.55">0</text>
<text x="65.94" y="688.33" font-family="Liberation Sans" font-size="13.5" fill="#000000" stroke="#000000" stroke-width="0.55">6</text>
<polygon points="47.77,632.68 45.66,632.68 45.66,619.29 44.77,620.06 43.38,620.90 41.44,621.83 41.44,619.79 43.26,618.81 44.70,617.63 45.78,616.46 46.40,615.50 47.77,615.50" fill="#000000" stroke="#000000" stroke-width="0.55" stroke-linejoin="round"/>
<text x="52.16" y="632.68" font-family="Liberation Sans" font-size="24.0" fill="#000000" stroke="#000000" stroke-width="0.55">0</text>
<text x="66.33" y="619.20" font-family="Liberation Sans" font-size="13.5" fill="#000000" stroke="#000000" stroke-width="0.55">7</text>
<polygon points="72.45,1142.10 70.34,1142.10 70.34,1128.71 69.45,1129.48 68.06,1130.32 66.12,1131.25 66.12,1129.21 67.94,1128.23 69.38,1127.05 70.46,1125.88 71.08,1124.92 72.45,1124.92" fill="#000000" stroke="#000000" stroke-width="0.55" stroke-linejoin="round"/>
<text x="76.84" y="1142.10" font-family="Liberation Sans" font-size="24.0" fill="#000000" stroke="#000000" stroke-width="0.55">0</text>
<text x="89.44" y="1128.55" font-family="Liberation Sans" font-size="13.5" fill="#000000" stroke="#000000" stroke-width="0.55">-2</text>
<polygon points="147.61,1141.63 145.50,1141.63 145.50,1128.24 144.61,1129.01 143.22,1129.85 141.27,1130.79 141.27,1128.75 143.10,1127.76 144.54,1126.59 145.62,1125.41 146.24,1124.45 147.61,1124.45" fill="#000000" stroke="#000000" stroke-width="0.55" stroke-linejoin="round"/>
<text x="152.00" y="1141.63" font-family="Liberation Sans" font-size="24.0" fill="#000000" stroke="#000000" stroke-width="0.55">0</text>
<text x="164.60" y="1127.95" font-family="Liberation Sans" font-size="13.5" fill="#000000" stroke="#000000" stroke-width="0.55">-</text>
<polygon points="174.13,1127.95 172.94,1127.95 172.94,1120.42 172.44,1120.85 171.66,1121.32 170.56,1121.85 170.56,1120.70 171.59,1120.15 172.40,1119.48 173.01,1118.82 173.36,1118.28 174.13,1118.28" fill="#000000" stroke="#000000" stroke-width="0.55" stroke-linejoin="round"/>
<polygon points="224.92,1141.17 222.81,1141.17 222.81,1127.77 221.92,1128.54 220.53,1129.38 218.59,1130.32 218.59,1128.28 220.41,1127.29 221.85,1126.12 222.93,1124.94 223.56,1123.98 224.92,1123.98" fill="#000000" stroke="#000000" stroke-width="0.55" stroke-linejoin="round"/>
<text x="229.32" y="1141.17" font-family="Liberation Sans" font-size="24.0" fill="#000000" stroke="#000000" stroke-width="0.55">0</text>
<text x="241.91" y="1127.62" font-family="Liberation Sans" font-size="13.5" fill="#000000" stroke="#000000" stroke-width="0.55">0</text>
<polygon points="300.42,1140.70 298.30,1140.70 298.30,1127.31 297.42,1128.08 296.02,1128.92 294.08,1129.85 294.08,1127.81 295.90,1126.83 297.34,1125.65 298.42,1124.48 299.05,1123.52 300.42,1123.52" fill="#000000" stroke="#000000" stroke-width="0.55" stroke-linejoin="round"/>
<text x="304.81" y="1140.70" font-family="Liberation Sans" font-size="24.0" fill="#000000" stroke="#000000" stroke-width="0.55">0</text>
<polygon points="321.90,1127.02 320.71,1127.02 320.71,1119.48 320.21,1119.91 319.43,1120.39 318.34,1120.91 318.34,1119.77 319.36,1119.21 320.17,1118.55 320.78,1117.89 321.13,1117.35 321.90,1117.35" fill="#000000" stroke="#000000" stroke-width="0.55" stroke-linejoin="round"/>
<polygon points="375.37,1140.23 373.26,1140.23 373.26,1126.84 372.37,1127.61 370.98,1128.45 369.03,1129.39 369.03,1127.35 370.86,1126.36 372.30,1125.19 373.38,1124.01 374.00,1123.05 375.37,1123.05" fill="#000000" stroke="#000000" stroke-width="0.55" stroke-linejoin="round"/>
<text x="379.76" y="1140.23" font-family="Liberation Sans" font-size="24.0" fill="#000000" stroke="#000000" stroke-width="0.55">0</text>
<text x="392.22" y="1126.68" font-family="Liberation Sans" font-size="13.5" fill="#000000" stroke="#000000" stroke-width="0.55">2</text>
<polygon points="450.46,1139.77 448.35,1139.77 448.35,1126.37 447.46,1127.14 446.07,1127.98 444.12,1128.92 444.12,1126.88 445.95,1125.89 447.39,1124.72 448.47,1123.54 449.09,1122.58 450.46,1122.58" fill="#000000" stroke="#000000" stroke-width="0.55" stroke-linejoin="round"/>
<text x="454.85" y="1139.77" font-family="Liberation Sans" font-size="24.0" fill="#000000" stroke="#000000" stroke-width="0.55">0</text>
<text x="467.45" y="1126.22" font-family="Liberation Sans" font-size="13.5" fill="#000000" stroke="#000000" stroke-width="0.55">3</text>
<polygon points="525.34,1139.30 523.23,1139.30 523.23,1125.91 522.34,1126.68 520.95,1127.52 519.01,1128.45 519.01,1126.41 520.83,1125.43 522.27,1124.25 523.35,1123.08 523.97,1122.12 525.34,1122.12" fill="#000000" stroke="#000000" stroke-width="0.55" stroke-linejoin="round"/>
<text x="529.73" y="1139.30" font-family="Liberation Sans" font-size="24.0" fill="#000000" stroke="#000000" stroke-width="0.55">0</text>
<text x="542.60" y="1125.62" font-family="Liberation Sans" font-size="13.5" fill="#000000" stroke="#000000" stroke-width="0.55">4</text>
<polygon points="600.77,1138.83 598.66,1138.83 598.66,1125.44 597.77,1126.21 596.38,1127.05 594.43,1127.99 594.43,1125.95 596.26,1124.96 597.70,1123.79 598.78,1122.61 599.40,1121.65 600.77,1121.65" fill="#000000" stroke="#000000" stroke-width="0.55" stroke-linejoin="round"/>
<text x="605.16" y="1138.83" font-family="Liberation Sans" font-size="24.0" fill="#000000" stroke="#000000" stroke-width="0.55">0</text>
<text x="617.76" y="1125.15" font-family="Liberation Sans" font-size="13.5" fill="#000000" stroke="#000000" stroke-width="0.55">5</text>
<polygon points="675.99,1138.37 673.88,1138.37 673.88,1124.97 672.99,1125.74 671.60,1126.58 669.66,1127.52 669.66,1125.48 671.48,1124.49 672.92,1123.32 674.00,1122.14 674.62,1121.18 675.99,1121.18" fill="#000000" stroke="#000000" stroke-width="0.55" stroke-linejoin="round"/>
<text x="680.38" y="1138.37" font-family="Liberation Sans" font-size="24.0" fill="#000000" stroke="#000000" stroke-width="0.55">0</text>
<text x="692.84" y="1124.82" font-family="Liberation Sans" font-size="13.5" fill="#000000" stroke="#000000" stroke-width="0.55">6</text>
<polygon points="751.15,1137.90 749.04,1137.90 749.04,1124.51 748.15,1125.28 746.75,1126.12 744.81,1127.05 744.81,1125.01 746.64,1124.03 748.08,1122.85 749.16,1121.68 749.78,1120.72 751.15,1120.72" fill="#000000" stroke="#000000" stroke-width="0.55" stroke-linejoin="round"/>
<text x="755.54" y="1137.90" font-family="Liberation Sans" font-size="24.0" fill="#000000" stroke="#000000" stroke-width="0.55">0</text>
<text x="768.00" y="1124.22" font-family="Liberation Sans" font-size="13.5" fill="#000000" stroke="#000000" stroke-width="0.55">7</text>
<rect x="154.0" y="693.5" width="11.6" height="11.6" fill="#000000"/>
<circle cx="159.8" cy="673.8" r="6.1" fill="#000000"/>
<rect x="167.4" y="708.4" width="11.6" height="11.6" fill="#000000"/>
<circle cx="173.2" cy="683.1" r="6.1" fill="#000000"/>
<rect x="180.9" y="723.5" width="11.6" height="11.6" fill="#000000"/>
<circle cx="186.7" cy="692.8" r="6.1" fill="#000000"/>
<rect x="194.3" y="738.4" width="11.6" height="11.6" fill="#000000"/>
<circle cx="200.1" cy="702.7" r="6.1" fill="#000000"/>
<rect x="207.8" y="753.4" width="11.6" height="11.6" fill="#000000"/>
<circle cx="213.6" cy="713.5" r="6.1" fill="#000000"/>
<rect x="221.2" y="768.4" width="11.6" height="11.6" fill="#000000"/>
<circle cx="227.0" cy="725.1" r="6.1" fill="#000000"/>
<rect x="234.6" y="783.0" width="11.6" height="11.6" fill="#000000"/>
<circle cx="240.4" cy="735.7" r="6.1" fill="#000000"/>
<rect x="248.1" y="796.8" width="11.6" height="11.6" fill="#000000"/>
<circle cx="253.9" cy="746.5" r="6.1" fill="#000000"/>
<rect x="261.5" y="810.7" width="11.6" height="11.6" fill="#000000"/>
<circle cx="267.3" cy="758.1" r="6.1" fill="#000000"/>
<rect x="275.0" y="824.2" width="11.6" height="11.6" fill="#000000"/>
<circle cx="280.8" cy="768.9" r="6.1" fill="#000000"/>
<rect x="288.4" y="837.0" width="11.6" height="11.6" fill="#000000"/>
<circle cx="294.2" cy="781.5" r="6.1" fill="#000000"/>
<rect x="301.8" y="849.2" width="11.6" height="11.6" fill="#000000"/>
<circle cx="307.6" cy="792.7" r="6.1" fill="#000000"/>
<rect x="315.3" y="861.4" width="11.6" height="11.6" fill="#000000"/>
<circle cx="321.1" cy="804.2" r="6.1" fill="#000000"/>
<rect x="328.7" y="872.3" width="11.6" height="11.6" fill="#000000"/>
<circle cx="334.5" cy="815.8" r="6.1" fill="#000000"/>
<rect x="342.2" y="881.5" width="11.6" height="11.6" fill="#000000"/>
<circle cx="348.0" cy="828.0" r="6.1" fill="#000000"/>
<rect x="355.6" y="890.7" width="11.6" height="11.6" fill="#000000"/>
<circle cx="361.4" cy="839.5" r="6.1" fill="#000000"/>
<rect x="369.0" y="898.4" width="11.6" height="11.6" fill="#000000"/>
<circle cx="374.8" cy="851.1" r="6.1" fill="#000000"/>
<rect x="382.5" y="903.9" width="11.6" height="11.6" fill="#000000"/>
<circle cx="388.3" cy="862.6" r="6.1" fill="#000000"/>
<rect x="395.9" y="908.5" width="11.6" height="11.6" fill="#000000"/>
<circle cx="401.7" cy="874.2" r="6.1" fill="#000000"/>
<rect x="409.4" y="912.2" width="11.6" height="11.6" fill="#000000"/>
<circle cx="415.2" cy="885.7" r="6.1" fill="#000000"/>
<rect x="422.8" y="914.5" width="11.6" height="11.6" fill="#000000"/>
<circle cx="428.6" cy="897.5" r="6.1" fill="#000000"/>
<rect x="436.2" y="916.5" width="11.6" height="11.6" fill="#000000"/>
<circle cx="442.0" cy="908.4" r="6.1" fill="#000000"/>
<rect x="449.7" y="917.9" width="11.6" height="11.6" fill="#000000"/>
<circle cx="455.5" cy="918.8" r="6.1" fill="#000000"/>
<rect x="463.1" y="919.8" width="11.6" height="11.6" fill="#000000"/>
<circle cx="468.9" cy="930.2" r="6.1" fill="#000000"/>
<rect x="476.6" y="921.4" width="11.6" height="11.6" fill="#000000"/>
<circle cx="482.4" cy="940.0" r="6.1" fill="#000000"/>
<rect x="490.0" y="922.5" width="11.6" height="11.6" fill="#000000"/>
<circle cx="495.8" cy="948.5" r="6.1" fill="#000000"/>
<rect x="503.4" y="924.2" width="11.6" height="11.6" fill="#000000"/>
<circle cx="509.2" cy="955.5" r="6.1" fill="#000000"/>
<rect x="516.9" y="925.2" width="11.6" height="11.6" fill="#000000"/>
<circle cx="522.7" cy="959.8" r="6.1" fill="#000000"/>
<rect x="530.3" y="926.8" width="11.6" height="11.6" fill="#000000"/>
<circle cx="536.1" cy="962.0" r="6.1" fill="#000000"/>
<rect x="543.8" y="928.4" width="11.6" height="11.6" fill="#000000"/>
<circle cx="549.6" cy="960.8" r="6.1" fill="#000000"/>
<rect x="557.2" y="932.0" width="11.6" height="11.6" fill="#000000"/>
<circle cx="563.0" cy="958.5" r="6.1" fill="#000000"/>
<rect x="570.6" y="936.6" width="11.6" height="11.6" fill="#000000"/>
<circle cx="576.4" cy="956.0" r="6.1" fill="#000000"/>
<rect x="584.1" y="944.2" width="11.6" height="11.6" fill="#000000"/>
<circle cx="589.9" cy="955.2" r="6.1" fill="#000000"/>
<rect x="597.5" y="951.7" width="11.6" height="11.6" fill="#000000"/>
<circle cx="603.3" cy="957.5" r="6.1" fill="#000000"/>
<rect x="611.0" y="963.6" width="11.6" height="11.6" fill="#000000"/>
<circle cx="616.8" cy="962.2" r="6.1" fill="#000000"/>
<rect x="624.4" y="977.9" width="11.6" height="11.6" fill="#000000"/>
<circle cx="630.2" cy="967.0" r="6.1" fill="#000000"/>
<rect x="637.8" y="993.2" width="11.6" height="11.6" fill="#000000"/>
<circle cx="643.6" cy="974.7" r="6.1" fill="#000000"/>
<rect x="651.3" y="1009.0" width="11.6" height="11.6" fill="#000000"/>
<circle cx="657.1" cy="983.7" r="6.1" fill="#000000"/>
<rect x="664.7" y="1024.8" width="11.6" height="11.6" fill="#000000"/>
<circle cx="670.5" cy="993.6" r="6.1" fill="#000000"/>
<rect x="678.2" y="1042.2" width="11.6" height="11.6" fill="#000000"/>
<circle cx="684.0" cy="1004.7" r="6.1" fill="#000000"/>
<rect x="137.80" y="942.40" width="9.6" height="9.6" fill="#000000"/>
<circle cx="142.6" cy="988.8" r="5.0" fill="#000000"/>
<text transform="translate(101.47,685.47) scale(0.3325,0.3111)" font-family="Liberation Serif" font-weight="bold" font-size="100" fill="#000000" stroke="#000000" stroke-width="0.62">(b)</text>
<text transform="translate(476.83,678.90) scale(0.2804,0.2750)" font-family="Liberation Serif" font-weight="normal" font-size="100" fill="#000000" stroke="#000000" stroke-width="3.24">120W</text>
<text transform="translate(189.65,955.60) scale(0.3000,0.2644)" font-family="Liberation Serif" font-weight="normal" font-size="100" fill="#000000" stroke="#000000" stroke-width="1.78">Re(Z)</text>
<text transform="translate(189.35,997.59) scale(0.2989,0.2789)" font-family="Liberation Serif" font-weight="normal" font-size="100" fill="#000000" stroke="#000000" stroke-width="1.73">-Im(Z)</text>
<text transform="translate(326.63,1184.28) scale(0.2999,0.2950)" font-family="Liberation Serif" font-weight="normal" font-size="100" fill="#000000" stroke="#000000" stroke-width="0.84">Frequency (Hz)</text>
<text transform="translate(475.59,731.30) scale(0.2396,0.2519)" font-family="Liberation Serif" font-weight="normal" font-size="100" fill="#000000" stroke="#000000" stroke-width="3.66">σ</text>
<text transform="translate(504.31,729.37) scale(0.2872,0.1960)" font-family="Liberation Serif" font-weight="normal" font-size="100" fill="#000000" stroke="#000000" stroke-width="3.79">=</text>
<text transform="translate(529.69,731.02) scale(0.2945,0.2672)" font-family="Liberation Serif" font-weight="normal" font-size="100" fill="#000000" stroke="#000000" stroke-width="3.21">7.46</text>
<text transform="translate(588.93,730.95) scale(0.3025,0.3075)" font-family="Liberation Serif" font-weight="normal" font-size="100" fill="#000000" stroke="#000000" stroke-width="2.95">×</text>
<text transform="translate(615.31,730.64) scale(0.2828,0.2559)" font-family="Liberation Serif" font-weight="normal" font-size="100" fill="#000000" stroke="#000000" stroke-width="3.35">10</text>
<text transform="translate(673.16,731.48) scale(0.2980,0.2866)" font-family="Liberation Serif" font-weight="normal" font-size="100" fill="#000000" stroke="#000000" stroke-width="3.08">S/cm</text>
<text transform="translate(651.51,714.25) scale(0.1592,0.1462)" font-family="Liberation Serif" font-weight="normal" font-size="100" fill="#000000" stroke="#000000" stroke-width="5.90">-7</text>
<text transform="translate(21.70,949.02) rotate(-90) scale(0.3051,0.2800)" font-family="Liberation Serif" font-size="100" fill="#000000" stroke="#000000" stroke-width="1.79">Impedance</text>
<path d="M82.9,1708.7 L86.0,1227.6 L761.0,1225.3 L761.2,1706.4 Z" fill="none" stroke="#000000" stroke-width="2.9" stroke-linejoin="miter"/>
<path d="M105.6,1708.6 v-5.8 M118.9,1708.6 v-5.8 M128.3,1708.5 v-5.8 M135.6,1708.5 v-5.8 M141.5,1708.5 v-5.8 M146.6,1708.5 v-5.8 M151.0,1708.5 v-5.8 M154.8,1708.5 v-5.8 M158.3,1708.4 v-10.5 M181.0,1708.4 v-5.8 M194.2,1708.3 v-5.8 M203.6,1708.3 v-5.8 M210.9,1708.3 v-5.8 M216.9,1708.2 v-5.8 M222.0,1708.2 v-5.8 M226.3,1708.2 v-5.8 M230.2,1708.2 v-5.8 M233.6,1708.2 v-10.5 M256.3,1708.1 v-5.8 M269.6,1708.1 v-5.8 M279.0,1708.0 v-5.8 M286.3,1708.0 v-5.8 M292.3,1708.0 v-5.8 M297.3,1708.0 v-5.8 M301.7,1708.0 v-5.8 M305.6,1707.9 v-5.8 M309.0,1707.9 v-10.5 M331.7,1707.9 v-5.8 M345.0,1707.8 v-5.8 M354.4,1707.8 v-5.8 M361.7,1707.8 v-5.8 M367.6,1707.7 v-5.8 M372.7,1707.7 v-5.8 M377.1,1707.7 v-5.8 M380.9,1707.7 v-5.8 M384.4,1707.7 v-10.5 M407.1,1707.6 v-5.8 M420.3,1707.6 v-5.8 M429.7,1707.5 v-5.8 M437.0,1707.5 v-5.8 M443.0,1707.5 v-5.8 M448.1,1707.5 v-5.8 M452.4,1707.4 v-5.8 M456.3,1707.4 v-5.8 M459.7,1707.4 v-10.5 M482.4,1707.3 v-5.8 M495.7,1707.3 v-5.8 M505.1,1707.3 v-5.8 M512.4,1707.2 v-5.8 M518.4,1707.2 v-5.8 M523.4,1707.2 v-5.8 M527.8,1707.2 v-5.8 M531.7,1707.2 v-5.8 M535.1,1707.2 v-10.5 M557.8,1707.1 v-5.8 M571.1,1707.0 v-5.8 M580.5,1707.0 v-5.8 M587.8,1707.0 v-5.8 M593.7,1707.0 v-5.8 M598.8,1707.0 v-5.8 M603.2,1706.9 v-5.8 M607.0,1706.9 v-5.8 M610.5,1706.9 v-10.5 M633.2,1706.8 v-5.8 M646.4,1706.8 v-5.8 M655.8,1706.8 v-5.8 M663.1,1706.7 v-5.8 M669.1,1706.7 v-5.8 M674.2,1706.7 v-5.8 M678.5,1706.7 v-5.8 M682.4,1706.7 v-5.8 M685.8,1706.7 v-10.5 M708.5,1706.6 v-5.8 M721.8,1706.5 v-5.8 M731.2,1706.5 v-5.8 M738.5,1706.5 v-5.8 M744.5,1706.5 v-5.8 M749.5,1706.4 v-5.8 M753.9,1706.4 v-5.8 M757.8,1706.4 v-5.8 M83.0,1688.0 h5.8 M761.2,1685.7 h-5.8 M83.1,1675.9 h5.8 M761.2,1673.6 h-5.8 M83.2,1667.3 h5.8 M761.2,1665.0 h-5.8 M83.2,1660.7 h5.8 M761.2,1658.4 h-5.8 M83.2,1655.2 h5.8 M761.2,1652.9 h-5.8 M83.3,1650.6 h5.8 M761.2,1648.3 h-5.8 M83.3,1646.6 h5.8 M761.2,1644.3 h-5.8 M83.3,1643.1 h5.8 M761.2,1640.8 h-5.8 M83.3,1640.0 h10.5 M761.2,1637.7 h-10.5 M83.5,1619.3 h5.8 M761.2,1617.0 h-5.8 M83.6,1607.2 h5.8 M761.2,1604.9 h-5.8 M83.6,1598.6 h5.8 M761.2,1596.3 h-5.8 M83.7,1591.9 h5.8 M761.2,1589.6 h-5.8 M83.7,1586.5 h5.8 M761.1,1584.2 h-5.8 M83.7,1581.9 h5.8 M761.1,1579.6 h-5.8 M83.7,1577.9 h5.8 M761.1,1575.6 h-5.8 M83.8,1574.4 h5.8 M761.1,1572.1 h-5.8 M83.8,1571.2 h10.5 M761.1,1568.9 h-10.5 M83.9,1550.6 h5.8 M761.1,1548.3 h-5.8 M84.0,1538.5 h5.8 M761.1,1536.2 h-5.8 M84.1,1529.9 h5.8 M761.1,1527.6 h-5.8 M84.1,1523.2 h5.8 M761.1,1520.9 h-5.8 M84.1,1517.8 h5.8 M761.1,1515.5 h-5.8 M84.2,1513.2 h5.8 M761.1,1510.9 h-5.8 M84.2,1509.2 h5.8 M761.1,1506.9 h-5.8 M84.2,1505.7 h5.8 M761.1,1503.4 h-5.8 M84.2,1502.5 h10.5 M761.1,1500.2 h-10.5 M84.4,1481.8 h5.8 M761.1,1479.5 h-5.8 M84.4,1469.7 h5.8 M761.1,1467.4 h-5.8 M84.5,1461.1 h5.8 M761.1,1458.8 h-5.8 M84.5,1454.5 h5.8 M761.1,1452.2 h-5.8 M84.6,1449.0 h5.8 M761.1,1446.7 h-5.8 M84.6,1444.4 h5.8 M761.1,1442.1 h-5.8 M84.6,1440.4 h5.8 M761.1,1438.1 h-5.8 M84.7,1436.9 h5.8 M761.1,1434.6 h-5.8 M84.7,1433.8 h10.5 M761.1,1431.5 h-10.5 M84.8,1413.1 h5.8 M761.1,1410.8 h-5.8 M84.9,1401.0 h5.8 M761.1,1398.7 h-5.8 M84.9,1392.4 h5.8 M761.1,1390.1 h-5.8 M85.0,1385.7 h5.8 M761.1,1383.4 h-5.8 M85.0,1380.3 h5.8 M761.1,1378.0 h-5.8 M85.0,1375.7 h5.8 M761.1,1373.4 h-5.8 M85.1,1371.7 h5.8 M761.1,1369.4 h-5.8 M85.1,1368.2 h5.8 M761.1,1365.9 h-5.8 M85.1,1365.1 h10.5 M761.1,1362.8 h-10.5 M85.2,1344.4 h5.8 M761.0,1342.1 h-5.8 M85.3,1332.3 h5.8 M761.0,1330.0 h-5.8 M85.4,1323.7 h5.8 M761.0,1321.4 h-5.8 M85.4,1317.0 h5.8 M761.0,1314.7 h-5.8 M85.5,1311.6 h5.8 M761.0,1309.3 h-5.8 M85.5,1307.0 h5.8 M761.0,1304.7 h-5.8 M85.5,1303.0 h5.8 M761.0,1300.7 h-5.8 M85.5,1299.5 h5.8 M761.0,1297.2 h-5.8 M85.6,1296.3 h10.5 M761.0,1294.0 h-10.5 M85.7,1275.6 h5.8 M761.0,1273.3 h-5.8 M85.8,1263.5 h5.8 M761.0,1261.2 h-5.8 M85.8,1254.9 h5.8 M761.0,1252.6 h-5.8 M85.9,1248.3 h5.8 M761.0,1246.0 h-5.8 M85.9,1242.8 h5.8 M761.0,1240.5 h-5.8 M85.9,1238.2 h5.8 M761.0,1235.9 h-5.8 M86.0,1234.3 h5.8 M761.0,1232.0 h-5.8 M86.0,1230.7 h5.8 M761.0,1228.4 h-5.8" stroke="#000000" stroke-width="2.3" fill="none"/>
<polygon points="44.97,1720.28 42.86,1720.28 42.86,1706.89 41.97,1707.66 40.58,1708.50 38.64,1709.43 38.64,1707.39 40.46,1706.41 41.90,1705.23 42.98,1704.06 43.60,1703.10 44.97,1703.10" fill="#000000" stroke="#000000" stroke-width="0.55" stroke-linejoin="round"/>
<text x="49.36" y="1720.28" font-family="Liberation Sans" font-size="24.0" fill="#000000" stroke="#000000" stroke-width="0.55">0</text>
<text x="63.66" y="1706.93" font-family="Liberation Sans" font-size="13.5" fill="#000000" stroke="#000000" stroke-width="0.55">0</text>
<polygon points="45.41,1651.55 43.30,1651.55 43.30,1638.16 42.41,1638.93 41.02,1639.77 39.08,1640.70 39.08,1638.66 40.90,1637.68 42.34,1636.50 43.42,1635.33 44.05,1634.37 45.41,1634.37" fill="#000000" stroke="#000000" stroke-width="0.55" stroke-linejoin="round"/>
<text x="49.81" y="1651.55" font-family="Liberation Sans" font-size="24.0" fill="#000000" stroke="#000000" stroke-width="0.55">0</text>
<polygon points="68.60,1638.07 67.41,1638.07 67.41,1630.53 66.91,1630.97 66.13,1631.44 65.03,1631.96 65.03,1630.82 66.06,1630.26 66.87,1629.60 67.48,1628.94 67.83,1628.40 68.60,1628.40" fill="#000000" stroke="#000000" stroke-width="0.55" stroke-linejoin="round"/>
<polygon points="45.86,1582.82 43.75,1582.82 43.75,1569.43 42.86,1570.20 41.47,1571.04 39.52,1571.97 39.52,1569.93 41.35,1568.95 42.79,1567.77 43.87,1566.60 44.49,1565.64 45.86,1565.64" fill="#000000" stroke="#000000" stroke-width="0.55" stroke-linejoin="round"/>
<text x="50.25" y="1582.82" font-family="Liberation Sans" font-size="24.0" fill="#000000" stroke="#000000" stroke-width="0.55">0</text>
<text x="64.41" y="1569.47" font-family="Liberation Sans" font-size="13.5" fill="#000000" stroke="#000000" stroke-width="0.55">2</text>
<polygon points="46.30,1514.09 44.19,1514.09 44.19,1500.70 43.30,1501.47 41.91,1502.31 39.96,1503.25 39.96,1501.21 41.79,1500.22 43.23,1499.05 44.31,1497.87 44.93,1496.91 46.30,1496.91" fill="#000000" stroke="#000000" stroke-width="0.55" stroke-linejoin="round"/>
<text x="50.69" y="1514.09" font-family="Liberation Sans" font-size="24.0" fill="#000000" stroke="#000000" stroke-width="0.55">0</text>
<text x="64.99" y="1500.74" font-family="Liberation Sans" font-size="13.5" fill="#000000" stroke="#000000" stroke-width="0.55">3</text>
<polygon points="46.74,1445.37 44.63,1445.37 44.63,1431.97 43.74,1432.74 42.35,1433.58 40.41,1434.52 40.41,1432.48 42.23,1431.49 43.67,1430.32 44.75,1429.14 45.38,1428.18 46.74,1428.18" fill="#000000" stroke="#000000" stroke-width="0.55" stroke-linejoin="round"/>
<text x="51.14" y="1445.37" font-family="Liberation Sans" font-size="24.0" fill="#000000" stroke="#000000" stroke-width="0.55">0</text>
<text x="65.70" y="1431.88" font-family="Liberation Sans" font-size="13.5" fill="#000000" stroke="#000000" stroke-width="0.55">4</text>
<polygon points="47.19,1376.64 45.07,1376.64 45.07,1363.25 44.19,1364.01 42.79,1364.85 40.85,1365.79 40.85,1363.75 42.67,1362.77 44.11,1361.59 45.19,1360.41 45.82,1359.45 47.19,1359.45" fill="#000000" stroke="#000000" stroke-width="0.55" stroke-linejoin="round"/>
<text x="51.58" y="1376.64" font-family="Liberation Sans" font-size="24.0" fill="#000000" stroke="#000000" stroke-width="0.55">0</text>
<text x="65.87" y="1363.15" font-family="Liberation Sans" font-size="13.5" fill="#000000" stroke="#000000" stroke-width="0.55">5</text>
<polygon points="47.63,1307.91 45.52,1307.91 45.52,1294.52 44.63,1295.28 43.24,1296.12 41.29,1297.06 41.29,1295.02 43.12,1294.04 44.56,1292.86 45.64,1291.68 46.26,1290.72 47.63,1290.72" fill="#000000" stroke="#000000" stroke-width="0.55" stroke-linejoin="round"/>
<text x="52.02" y="1307.91" font-family="Liberation Sans" font-size="24.0" fill="#000000" stroke="#000000" stroke-width="0.55">0</text>
<text x="66.18" y="1294.56" font-family="Liberation Sans" font-size="13.5" fill="#000000" stroke="#000000" stroke-width="0.55">6</text>
<polygon points="48.07,1239.18 45.96,1239.18 45.96,1225.79 45.07,1226.56 43.68,1227.40 41.74,1228.33 41.74,1226.29 43.56,1225.31 45.00,1224.13 46.08,1222.96 46.70,1222.00 48.07,1222.00" fill="#000000" stroke="#000000" stroke-width="0.55" stroke-linejoin="round"/>
<text x="52.46" y="1239.18" font-family="Liberation Sans" font-size="24.0" fill="#000000" stroke="#000000" stroke-width="0.55">0</text>
<text x="66.62" y="1225.69" font-family="Liberation Sans" font-size="13.5" fill="#000000" stroke="#000000" stroke-width="0.55">7</text>
<polygon points="72.25,1746.70 70.14,1746.70 70.14,1733.31 69.25,1734.08 67.86,1734.92 65.92,1735.85 65.92,1733.81 67.74,1732.83 69.18,1731.65 70.26,1730.48 70.88,1729.52 72.25,1729.52" fill="#000000" stroke="#000000" stroke-width="0.55" stroke-linejoin="round"/>
<text x="76.64" y="1746.70" font-family="Liberation Sans" font-size="24.0" fill="#000000" stroke="#000000" stroke-width="0.55">0</text>
<text x="89.24" y="1733.15" font-family="Liberation Sans" font-size="13.5" fill="#000000" stroke="#000000" stroke-width="0.55">-2</text>
<polygon points="147.62,1746.44 145.51,1746.44 145.51,1733.05 144.62,1733.82 143.23,1734.66 141.28,1735.60 141.28,1733.56 143.11,1732.57 144.55,1731.40 145.63,1730.22 146.25,1729.26 147.62,1729.26" fill="#000000" stroke="#000000" stroke-width="0.55" stroke-linejoin="round"/>
<text x="152.01" y="1746.44" font-family="Liberation Sans" font-size="24.0" fill="#000000" stroke="#000000" stroke-width="0.55">0</text>
<text x="164.61" y="1732.76" font-family="Liberation Sans" font-size="13.5" fill="#000000" stroke="#000000" stroke-width="0.55">-</text>
<polygon points="174.14,1732.76 172.95,1732.76 172.95,1725.23 172.45,1725.66 171.67,1726.13 170.57,1726.66 170.57,1725.51 171.60,1724.96 172.41,1724.29 173.02,1723.63 173.37,1723.09 174.14,1723.09" fill="#000000" stroke="#000000" stroke-width="0.55" stroke-linejoin="round"/>
<polygon points="225.15,1746.19 223.03,1746.19 223.03,1732.80 222.15,1733.56 220.75,1734.40 218.81,1735.34 218.81,1733.30 220.63,1732.32 222.07,1731.14 223.15,1729.96 223.78,1729.00 225.15,1729.00" fill="#000000" stroke="#000000" stroke-width="0.55" stroke-linejoin="round"/>
<text x="229.54" y="1746.19" font-family="Liberation Sans" font-size="24.0" fill="#000000" stroke="#000000" stroke-width="0.55">0</text>
<text x="242.13" y="1732.64" font-family="Liberation Sans" font-size="13.5" fill="#000000" stroke="#000000" stroke-width="0.55">0</text>
<polygon points="300.85,1745.93 298.74,1745.93 298.74,1732.54 297.85,1733.31 296.46,1734.15 294.51,1735.09 294.51,1733.05 296.34,1732.06 297.78,1730.89 298.86,1729.71 299.48,1728.75 300.85,1728.75" fill="#000000" stroke="#000000" stroke-width="0.55" stroke-linejoin="round"/>
<text x="305.24" y="1745.93" font-family="Liberation Sans" font-size="24.0" fill="#000000" stroke="#000000" stroke-width="0.55">0</text>
<polygon points="322.33,1732.25 321.15,1732.25 321.15,1724.72 320.65,1725.15 319.86,1725.62 318.77,1726.15 318.77,1725.00 319.80,1724.45 320.61,1723.78 321.21,1723.12 321.56,1722.58 322.33,1722.58" fill="#000000" stroke="#000000" stroke-width="0.55" stroke-linejoin="round"/>
<polygon points="376.01,1745.68 373.90,1745.68 373.90,1732.29 373.01,1733.05 371.62,1733.89 369.68,1734.83 369.68,1732.79 371.50,1731.81 372.94,1730.63 374.02,1729.45 374.65,1728.49 376.01,1728.49" fill="#000000" stroke="#000000" stroke-width="0.55" stroke-linejoin="round"/>
<text x="380.41" y="1745.68" font-family="Liberation Sans" font-size="24.0" fill="#000000" stroke="#000000" stroke-width="0.55">0</text>
<text x="392.87" y="1732.13" font-family="Liberation Sans" font-size="13.5" fill="#000000" stroke="#000000" stroke-width="0.55">2</text>
<polygon points="451.31,1745.42 449.20,1745.42 449.20,1732.03 448.31,1732.80 446.92,1733.64 444.98,1734.57 444.98,1732.53 446.80,1731.55 448.24,1730.37 449.32,1729.20 449.94,1728.24 451.31,1728.24" fill="#000000" stroke="#000000" stroke-width="0.55" stroke-linejoin="round"/>
<text x="455.70" y="1745.42" font-family="Liberation Sans" font-size="24.0" fill="#000000" stroke="#000000" stroke-width="0.55">0</text>
<text x="468.30" y="1731.87" font-family="Liberation Sans" font-size="13.5" fill="#000000" stroke="#000000" stroke-width="0.55">3</text>
<polygon points="526.41,1745.17 524.30,1745.17 524.30,1731.77 523.41,1732.54 522.02,1733.38 520.07,1734.32 520.07,1732.28 521.90,1731.29 523.34,1730.12 524.42,1728.94 525.04,1727.98 526.41,1727.98" fill="#000000" stroke="#000000" stroke-width="0.55" stroke-linejoin="round"/>
<text x="530.80" y="1745.17" font-family="Liberation Sans" font-size="24.0" fill="#000000" stroke="#000000" stroke-width="0.55">0</text>
<text x="543.67" y="1731.48" font-family="Liberation Sans" font-size="13.5" fill="#000000" stroke="#000000" stroke-width="0.55">4</text>
<polygon points="602.05,1744.91 599.93,1744.91 599.93,1731.52 599.05,1732.29 597.65,1733.13 595.71,1734.06 595.71,1732.02 597.53,1731.04 598.97,1729.86 600.05,1728.69 600.68,1727.73 602.05,1727.73" fill="#000000" stroke="#000000" stroke-width="0.55" stroke-linejoin="round"/>
<text x="606.44" y="1744.91" font-family="Liberation Sans" font-size="24.0" fill="#000000" stroke="#000000" stroke-width="0.55">0</text>
<text x="619.03" y="1731.23" font-family="Liberation Sans" font-size="13.5" fill="#000000" stroke="#000000" stroke-width="0.55">5</text>
<polygon points="677.48,1744.66 675.37,1744.66 675.37,1731.26 674.48,1732.03 673.09,1732.87 671.14,1733.81 671.14,1731.77 672.97,1730.78 674.41,1729.61 675.49,1728.43 676.11,1727.47 677.48,1727.47" fill="#000000" stroke="#000000" stroke-width="0.55" stroke-linejoin="round"/>
<text x="681.87" y="1744.66" font-family="Liberation Sans" font-size="24.0" fill="#000000" stroke="#000000" stroke-width="0.55">0</text>
<text x="694.33" y="1731.11" font-family="Liberation Sans" font-size="13.5" fill="#000000" stroke="#000000" stroke-width="0.55">6</text>
<polygon points="752.85,1744.40 750.74,1744.40 750.74,1731.01 749.85,1731.78 748.46,1732.62 746.51,1733.55 746.51,1731.51 748.34,1730.53 749.78,1729.35 750.86,1728.18 751.48,1727.22 752.85,1727.22" fill="#000000" stroke="#000000" stroke-width="0.55" stroke-linejoin="round"/>
<text x="757.24" y="1744.40" font-family="Liberation Sans" font-size="24.0" fill="#000000" stroke="#000000" stroke-width="0.55">0</text>
<text x="769.70" y="1730.72" font-family="Liberation Sans" font-size="13.5" fill="#000000" stroke="#000000" stroke-width="0.55">7</text>
<rect x="153.2" y="1453.4" width="12.9" height="12.2" fill="#000000"/>
<circle cx="159.6" cy="1394.9" r="6.5" fill="#000000"/>
<rect x="166.6" y="1463.1" width="12.9" height="12.2" fill="#000000"/>
<circle cx="173.0" cy="1407.4" r="6.5" fill="#000000"/>
<rect x="180.0" y="1471.2" width="12.9" height="12.2" fill="#000000"/>
<circle cx="186.5" cy="1419.6" r="6.5" fill="#000000"/>
<rect x="193.5" y="1478.1" width="12.9" height="12.2" fill="#000000"/>
<circle cx="199.9" cy="1431.8" r="6.5" fill="#000000"/>
<rect x="206.9" y="1482.7" width="12.9" height="12.2" fill="#000000"/>
<circle cx="213.4" cy="1443.4" r="6.5" fill="#000000"/>
<rect x="220.4" y="1485.7" width="12.9" height="12.2" fill="#000000"/>
<circle cx="226.8" cy="1454.9" r="6.5" fill="#000000"/>
<rect x="233.8" y="1488.0" width="12.9" height="12.2" fill="#000000"/>
<circle cx="240.2" cy="1466.6" r="6.5" fill="#000000"/>
<rect x="247.2" y="1489.9" width="12.9" height="12.2" fill="#000000"/>
<circle cx="253.7" cy="1479.0" r="6.5" fill="#000000"/>
<rect x="260.7" y="1490.9" width="12.9" height="12.2" fill="#000000"/>
<circle cx="267.1" cy="1490.0" r="6.5" fill="#000000"/>
<rect x="274.1" y="1491.5" width="12.9" height="12.2" fill="#000000"/>
<circle cx="280.6" cy="1502.0" r="6.5" fill="#000000"/>
<rect x="287.6" y="1492.2" width="12.9" height="12.2" fill="#000000"/>
<circle cx="294.0" cy="1514.0" r="6.5" fill="#000000"/>
<rect x="301.0" y="1492.8" width="12.9" height="12.2" fill="#000000"/>
<circle cx="307.4" cy="1526.3" r="6.5" fill="#000000"/>
<rect x="314.4" y="1493.1" width="12.9" height="12.2" fill="#000000"/>
<circle cx="320.9" cy="1537.7" r="6.5" fill="#000000"/>
<rect x="327.9" y="1493.5" width="12.9" height="12.2" fill="#000000"/>
<circle cx="334.3" cy="1549.5" r="6.5" fill="#000000"/>
<rect x="341.3" y="1493.7" width="12.9" height="12.2" fill="#000000"/>
<circle cx="347.8" cy="1559.7" r="6.5" fill="#000000"/>
<rect x="354.8" y="1493.9" width="12.9" height="12.2" fill="#000000"/>
<circle cx="361.2" cy="1568.0" r="6.5" fill="#000000"/>
<rect x="368.2" y="1494.1" width="12.9" height="12.2" fill="#000000"/>
<circle cx="374.6" cy="1573.1" r="6.5" fill="#000000"/>
<rect x="381.6" y="1494.3" width="12.9" height="12.2" fill="#000000"/>
<circle cx="388.1" cy="1575.4" r="6.5" fill="#000000"/>
<rect x="395.1" y="1494.5" width="12.9" height="12.2" fill="#000000"/>
<circle cx="401.5" cy="1573.1" r="6.5" fill="#000000"/>
<rect x="408.5" y="1494.7" width="12.9" height="12.2" fill="#000000"/>
<circle cx="415.0" cy="1568.5" r="6.5" fill="#000000"/>
<rect x="421.9" y="1494.9" width="12.9" height="12.2" fill="#000000"/>
<circle cx="428.4" cy="1563.9" r="6.5" fill="#000000"/>
<rect x="435.4" y="1495.4" width="12.9" height="12.2" fill="#000000"/>
<circle cx="441.8" cy="1559.7" r="6.5" fill="#000000"/>
<rect x="448.8" y="1496.6" width="12.9" height="12.2" fill="#000000"/>
<circle cx="455.3" cy="1555.8" r="6.5" fill="#000000"/>
<rect x="462.3" y="1498.2" width="12.9" height="12.2" fill="#000000"/>
<circle cx="468.7" cy="1553.2" r="6.5" fill="#000000"/>
<rect x="475.7" y="1500.1" width="12.9" height="12.2" fill="#000000"/>
<circle cx="482.2" cy="1550.0" r="6.5" fill="#000000"/>
<rect x="489.2" y="1502.4" width="12.9" height="12.2" fill="#000000"/>
<circle cx="495.6" cy="1545.8" r="6.5" fill="#000000"/>
<rect x="502.6" y="1505.1" width="12.9" height="12.2" fill="#000000"/>
<circle cx="509.0" cy="1542.6" r="6.5" fill="#000000"/>
<rect x="516.0" y="1507.4" width="12.9" height="12.2" fill="#000000"/>
<circle cx="522.5" cy="1540.3" r="6.5" fill="#000000"/>
<rect x="529.5" y="1511.1" width="12.9" height="12.2" fill="#000000"/>
<circle cx="535.9" cy="1538.5" r="6.5" fill="#000000"/>
<rect x="542.9" y="1516.2" width="12.9" height="12.2" fill="#000000"/>
<circle cx="549.4" cy="1537.3" r="6.5" fill="#000000"/>
<rect x="556.3" y="1521.7" width="12.9" height="12.2" fill="#000000"/>
<circle cx="562.8" cy="1537.0" r="6.5" fill="#000000"/>
<rect x="569.8" y="1529.9" width="12.9" height="12.2" fill="#000000"/>
<circle cx="576.2" cy="1538.5" r="6.5" fill="#000000"/>
<rect x="583.2" y="1537.9" width="12.9" height="12.2" fill="#000000"/>
<circle cx="589.7" cy="1541.5" r="6.5" fill="#000000"/>
<rect x="596.7" y="1550.1" width="12.9" height="12.2" fill="#000000"/>
<circle cx="603.1" cy="1546.0" r="6.5" fill="#000000"/>
<rect x="610.1" y="1564.7" width="12.9" height="12.2" fill="#000000"/>
<circle cx="616.6" cy="1552.3" r="6.5" fill="#000000"/>
<rect x="623.5" y="1578.9" width="12.9" height="12.2" fill="#000000"/>
<circle cx="630.0" cy="1560.0" r="6.5" fill="#000000"/>
<rect x="637.0" y="1594.8" width="12.9" height="12.2" fill="#000000"/>
<circle cx="643.4" cy="1569.7" r="6.5" fill="#000000"/>
<rect x="650.4" y="1610.8" width="12.9" height="12.2" fill="#000000"/>
<circle cx="656.9" cy="1579.0" r="6.5" fill="#000000"/>
<rect x="663.9" y="1628.3" width="12.9" height="12.2" fill="#000000"/>
<circle cx="670.3" cy="1589.2" r="6.5" fill="#000000"/>
<rect x="677.3" y="1645.7" width="12.9" height="12.2" fill="#000000"/>
<circle cx="683.8" cy="1600.5" r="6.5" fill="#000000"/>
<rect x="145.20" y="1579.40" width="9.6" height="9.6" fill="#000000"/>
<circle cx="150" cy="1624.6" r="5.0" fill="#000000"/>
<text transform="translate(120.47,1306.41) scale(0.3835,0.3711)" font-family="Liberation Serif" font-weight="bold" font-size="100" fill="#000000" stroke="#000000" stroke-width="0.53">(c)</text>
<text transform="translate(467.14,1279.79) scale(0.2825,0.3074)" font-family="Liberation Serif" font-weight="bold" font-size="100" fill="#000000" stroke="#000000" stroke-width="0.00">160W</text>
<text transform="translate(196.70,1592.11) scale(0.3013,0.2756)" font-family="Liberation Serif" font-weight="normal" font-size="100" fill="#000000" stroke="#000000" stroke-width="2.78">Re(Z)</text>
<text transform="translate(196.41,1634.44) scale(0.2977,0.2744)" font-family="Liberation Serif" font-weight="normal" font-size="100" fill="#000000" stroke="#000000" stroke-width="2.80">-Im(Z)</text>
<text transform="translate(328.03,1791.50) scale(0.2977,0.3083)" font-family="Liberation Serif" font-weight="normal" font-size="100" fill="#000000" stroke="#000000" stroke-width="0.83">Frequency (Hz)</text>
<text transform="translate(465.71,1330.20) scale(0.2354,0.2481)" font-family="Liberation Serif" font-weight="normal" font-size="100" fill="#000000" stroke="#000000" stroke-width="4.55">σ</text>
<text transform="translate(495.34,1328.10) scale(0.3021,0.1880)" font-family="Liberation Serif" font-weight="normal" font-size="100" fill="#000000" stroke="#000000" stroke-width="4.62">=</text>
<text transform="translate(520.05,1329.94) scale(0.2994,0.2544)" font-family="Liberation Serif" font-weight="normal" font-size="100" fill="#000000" stroke="#000000" stroke-width="3.99">2.10</text>
<text transform="translate(580.07,1329.78) scale(0.2975,0.3025)" font-family="Liberation Serif" font-weight="normal" font-size="100" fill="#000000" stroke="#000000" stroke-width="3.67">×</text>
<text transform="translate(606.42,1330.52) scale(0.2701,0.2662)" font-family="Liberation Serif" font-weight="normal" font-size="100" fill="#000000" stroke="#000000" stroke-width="4.10">10</text>
<text transform="translate(665.10,1331.36) scale(0.2924,0.2970)" font-family="Liberation Serif" font-weight="normal" font-size="100" fill="#000000" stroke="#000000" stroke-width="3.73">S/cm</text>
<text transform="translate(643.68,1314.15) scale(0.1434,0.1523)" font-family="Liberation Serif" font-weight="normal" font-size="100" fill="#000000" stroke="#000000" stroke-width="7.44">-7</text>
<text transform="translate(21.70,1556.12) rotate(-90) scale(0.3049,0.2800)" font-family="Liberation Serif" font-size="100" fill="#000000" stroke="#000000" stroke-width="1.79">Impedance</text>
</g>
</svg>
</body></html>
